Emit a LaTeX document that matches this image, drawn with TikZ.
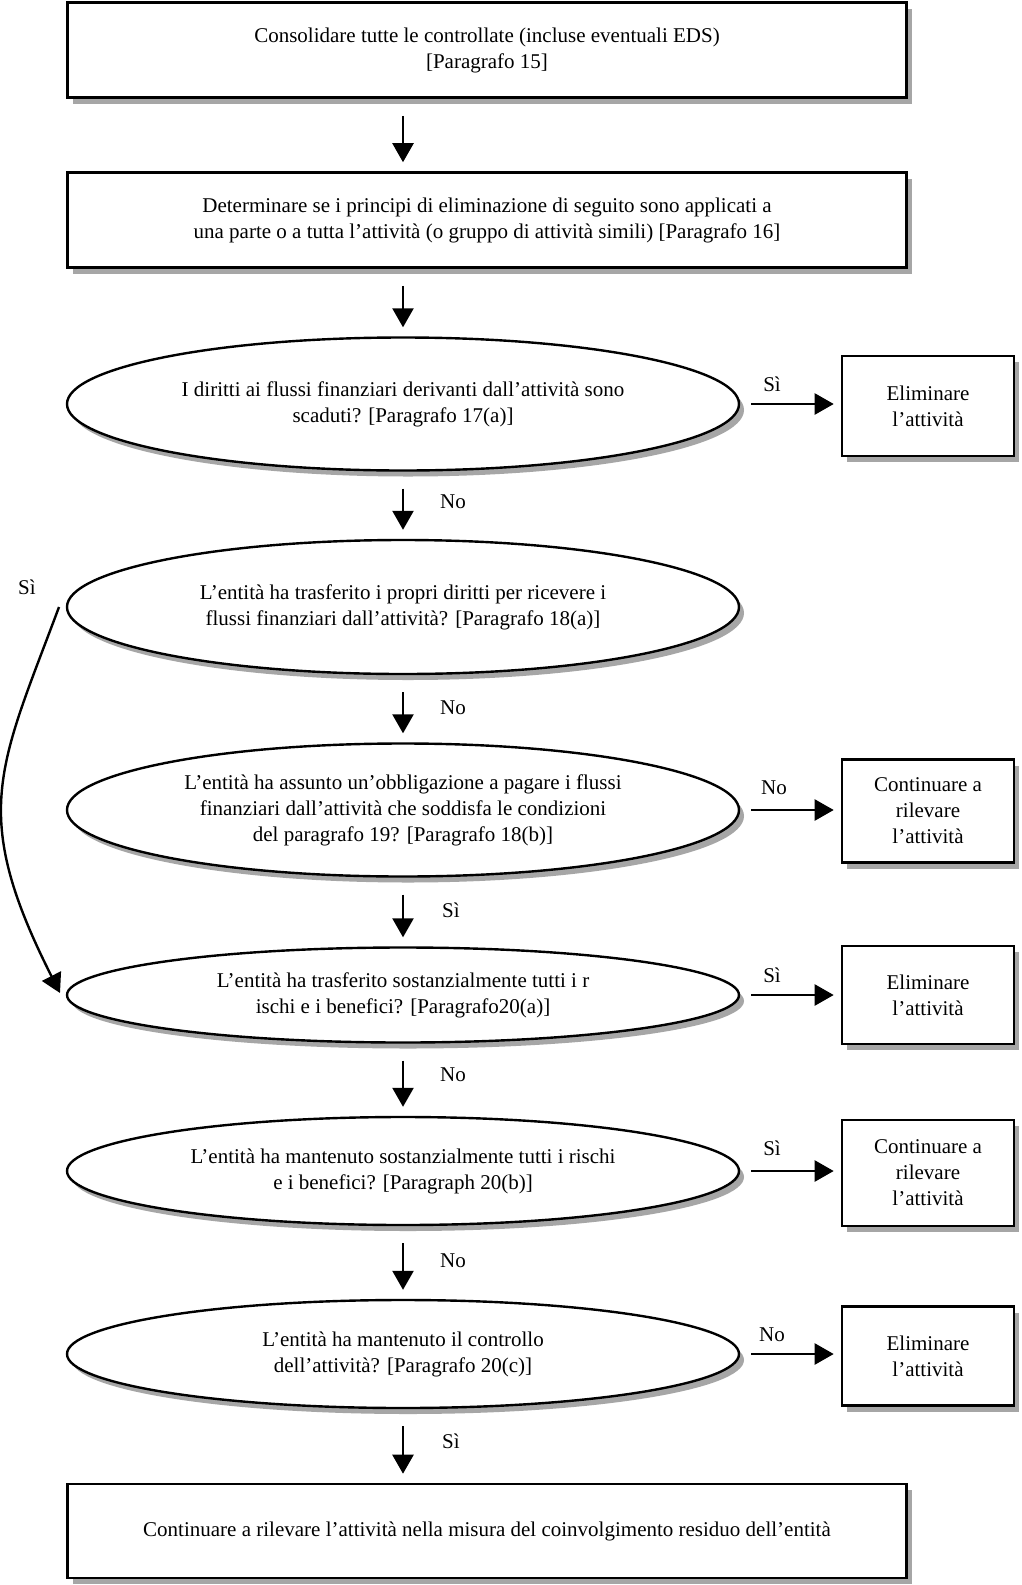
\documentclass[tikz,border=0pt]{standalone}
\usepackage{fontspec}
\setmainfont{Liberation Serif}
\usetikzlibrary{shapes.geometric,arrows.meta,shadows}
\begin{document}
\begin{tikzpicture}[x=1pt,y=-1pt,
  every node/.style={font=\fontsize{21}{26}\selectfont},
  shad/.style={drop shadow={shadow xshift=5pt,shadow yshift=-6pt,fill=black!35,opacity=1}},
  rbox/.style={draw,line width=2.6pt,fill=white,inner sep=0pt,align=center,shad},
  ell/.style={ellipse,draw,line width=2.4pt,fill=white,inner sep=0pt,align=center,minimum width=672pt,shad},
  arr/.style={line width=2.4pt,-{Triangle[length=19pt,width=21pt]}},
  darr/.style={arr,shorten <=17pt,shorten >=9pt},
  harr/.style={arr,shorten <=11pt,shorten >=7pt},
  lbl/.style={inner sep=0pt}
]
\useasboundingbox[fill=white] (0,0) rectangle (1021,1585);

\node[rbox,minimum width=839pt,minimum height=95pt] (b1) at (487,50) {Consolidare tutte le controllate (incluse eventuali EDS)\\{}[Paragrafo 15]};
\node[rbox,minimum width=839pt,minimum height=95pt] (b2) at (487,220) {Determinare se i principi di eliminazione di seguito sono applicati a\\una parte o a tutta l’attività (o gruppo di attività simili) [Paragrafo 16]};

\node[ell,minimum height=133pt] (e1) at (403,404) {I diritti ai flussi finanziari derivanti dall’attività sono\\scaduti? [Paragrafo 17(a)]};
\node[ell,minimum height=134pt] (e2) at (403,607) {L’entità ha trasferito i propri diritti per ricevere i\\flussi finanziari dall’attività? [Paragrafo 18(a)]};
\node[ell,minimum height=133pt] (e3) at (403,810) {L’entità ha assunto un’obbligazione a pagare i flussi\\finanziari dall’attività che soddisfa le condizioni\\del paragrafo 19? [Paragrafo 18(b)]};
\node[ell,minimum height=95pt] (e4) at (403,995) {L’entità ha trasferito sostanzialmente tutti i r\\ischi e i benefici? [Paragrafo20(a)]};
\node[ell,minimum height=108pt] (e5) at (403,1171) {L’entità ha mantenuto sostanzialmente tutti i rischi\\e i benefici? [Paragraph 20(b)]};
\node[ell,minimum height=108pt] (e6) at (403,1354) {L’entità ha mantenuto il controllo\\dell’attività? [Paragrafo 20(c)]};

\node[rbox,minimum width=839pt,minimum height=94pt] (bf) at (487,1531) {Continuare a rilevare l’attività nella misura del coinvolgimento residuo dell’entità};

\node[rbox,minimum width=172pt,minimum height=100pt] (r1) at (928,406) {Eliminare\\l’attività};
\node[rbox,minimum width=172pt,minimum height=103pt] (r2) at (928,811) {Continuare a\\rilevare\\l’attività};
\node[rbox,minimum width=172pt,minimum height=98pt] (r3) at (928,995) {Eliminare\\l’attività};
\node[rbox,minimum width=172pt,minimum height=106pt] (r4) at (928,1173) {Continuare a\\rilevare\\l’attività};
\node[rbox,minimum width=172pt,minimum height=99pt] (r5) at (928,1356) {Eliminare\\l’attività};

% vertical arrows
\draw[darr] (b1.south -| e1.center) -- (b2.north -| e1.center);
\draw[darr] (b2.south -| e1.center) -- (e1.north);
\draw[darr] (e1.south) -- (e2.north);
\draw[darr] (e2.south) -- (e3.north);
\draw[darr] (e3.south) -- (e4.north);
\draw[darr] (e4.south) -- (e5.north);
\draw[darr] (e5.south) -- (e6.north);
\draw[darr] (e6.south) -- (bf.north -| e6.center);

% horizontal arrows
\draw[harr] (e1.east) -- (e1.east -| r1.west);
\draw[harr] (e3.east) -- (e3.east -| r2.west);
\draw[harr] (e4.east) -- (e4.east -| r3.west);
\draw[harr] (e5.east) -- (e5.east -| r4.west);
\draw[harr] (e6.east) -- (e6.east -| r5.west);

% curved arrow
\coordinate (cs) at (59,607);
\coordinate (ce) at (60,993);
\draw[arr] (cs) .. controls (-1,768) and (-31,813) .. (ce);

% labels
\node[lbl] (l1) at (453,502) {No};
\node[lbl] (l2) at (453,708) {No};
\node[lbl] (l3) at (451,910) {Sì};
\node[lbl] (l4) at (453,1075) {No};
\node[lbl] (l5) at (453,1261) {No};
\node[lbl] (l6) at (451,1441) {Sì};
\node[lbl] (h1) at (772,384) {Sì};
\node[lbl] (h2) at (774,788) {No};
\node[lbl] (h3) at (772,975) {Sì};
\node[lbl] (h4) at (772,1148) {Sì};
\node[lbl] (h5) at (772,1335) {No};
\node[lbl] (ls) at (27,587) {Sì};
\end{tikzpicture}
\end{document}
